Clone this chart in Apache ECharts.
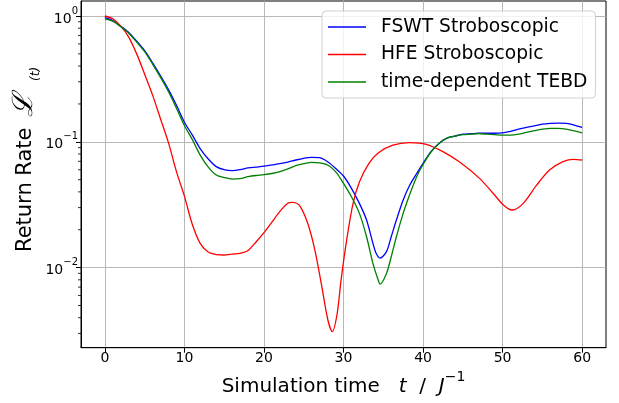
<!DOCTYPE html>
<html>
<head>
<meta charset="utf-8">
<script src="https://cdn.jsdelivr.net/npm/echarts@6/dist/echarts.min.js"></script>
<style>
html,body{margin:0;padding:0;background:#fff;}
#chart{width:619px;height:403px;}
</style>
</head>
<body>
<div id="chart"></div>
<script>
// ---- data ----
const seriesNames = ['FSWT Stroboscopic', 'HFE Stroboscopic', 'time-dependent TEBD'];

const fswt = [[0,0.97],[1,0.92],[2,0.83],[3,0.74],[4,0.63],[5,0.53],[6,0.425],[7,0.335],[8,0.26],[9,0.195],[10,0.143],[11,0.113],[12,0.088],[13,0.073],[14,0.0635],[15,0.06],[16,0.059],[17,0.06],[18,0.062],[19,0.063],[20,0.064],[21,0.0655],[22,0.067],[23,0.069],[24,0.0717],[25,0.074],[26,0.0753],[27,0.0748],[28,0.0695],[29,0.0616],[30,0.0535],[31,0.0427],[32,0.0324],[32.9,0.0239],[33.7,0.0156],[34.1,0.013],[34.6,0.0119],[35.4,0.0134],[36,0.0176],[36.65,0.0239],[37.5,0.0345],[38.3,0.045],[39.2,0.056],[40,0.0675],[41,0.0835],[42,0.097],[43,0.107],[44,0.111],[45,0.115],[46,0.116],[47,0.117],[48,0.117],[49,0.117],[50,0.118],[51,0.121],[52,0.126],[53,0.13],[54,0.134],[55,0.138],[56,0.140],[57,0.141],[58,0.140],[59,0.136],[60,0.130]];

const hfe = [[0,1.0],[1,0.95],[2,0.83],[3,0.68],[4,0.5],[5,0.345],[6,0.235],[7,0.152],[8,0.098],[9,0.058],[10,0.037],[11,0.022],[12,0.0155],[13,0.0133],[14,0.0127],[15,0.0126],[16,0.0128],[17,0.013],[18,0.0137],[19,0.016],[20,0.019],[21,0.023],[22,0.028],[23,0.0325],[23.6,0.033],[24.5,0.031],[25.5,0.0225],[26.4,0.0138],[27.2,0.0075],[28.05,0.0038],[28.6,0.0031],[29.2,0.0043],[29.7,0.008],[30.4,0.0166],[31.2,0.0324],[32,0.048],[33.2,0.0675],[34.4,0.082],[36.2,0.094],[38.3,0.0985],[40.4,0.0955],[42.5,0.0835],[44.6,0.069],[47.1,0.0512],[48.8,0.039],[50.1,0.0315],[51.2,0.0287],[52.6,0.0324],[54.3,0.0454],[55.9,0.0597],[57.6,0.0695],[58.9,0.0726],[60,0.0717]];

const tebd = [[0,0.95],[1,0.91],[2,0.82],[3,0.73],[4,0.62],[5,0.52],[6,0.415],[7,0.325],[8,0.25],[9,0.185],[10,0.135],[11,0.104],[12,0.078],[13,0.063],[14,0.0545],[15,0.052],[16,0.0506],[17,0.051],[18,0.0528],[19,0.054],[20,0.0548],[21,0.056],[22,0.058],[23,0.061],[24,0.0646],[25,0.067],[26,0.0687],[27,0.068],[28,0.0654],[29,0.058],[30,0.0468],[31,0.0366],[32,0.027],[32.9,0.0176],[33.7,0.0108],[34.35,0.008],[34.6,0.0074],[35.4,0.009],[36,0.0122],[36.65,0.0176],[37.5,0.027],[38.3,0.0378],[39.2,0.0528],[40,0.066],[41,0.083],[42,0.097],[43,0.107],[44,0.111],[45,0.114],[46,0.115],[47,0.116],[48,0.115],[49,0.114],[50,0.113],[51,0.113],[52,0.115],[53,0.119],[54,0.1226],[55,0.126],[56,0.128],[57,0.128],[58,0.126],[59,0.122],[60,0.118]];

const xTicks = [0, 10, 20, 30, 40, 50, 60];
const yTicks = [0.01, 0.1, 1];
const yMinorTicks = [0.003,0.004,0.005,0.006,0.007,0.008,0.009,0.02,0.03,0.04,0.05,0.06,0.07,0.08,0.09,0.2,0.3,0.4,0.5,0.6,0.7,0.8,0.9];
const X_MIN = -3, X_MAX = 63, Y_MIN = 0.00231, Y_MAX = 1.316;

const colors = ['#0000ff', '#ff0000', '#008000'];

const chart = echarts.init(document.getElementById('chart'), null, {renderer: 'canvas'});

function lineSeries(name, data, color, z) {
  return {
    name: name, type: 'line', data: data, showSymbol: false, symbol: 'none',
    smooth: 0.3,
    lineStyle: {color: color, width: 1.3}, itemStyle: {color: color},
    z: z, animation: false
  };
}

const option = {
  backgroundColor: '#ffffff',
  animation: false,
  textStyle: {fontFamily: 'DejaVu Sans', color: '#000'},
  grid: {left: 81, right: 13, top: 1, bottom: 55.3, show: true, borderColor: '#000', borderWidth: 1, backgroundColor: 'transparent'},
  legend: {
    data: seriesNames, orient: 'vertical', left: 322, top: 11,
    icon: 'rect', itemWidth: 38, itemHeight: 1.6, itemGap: 7.5,
    padding: [6, 8, 6, 6],
    borderColor: '#d0d0d0', borderWidth: 1, borderRadius: 4,
    backgroundColor: 'rgba(255,255,255,0.8)',
    textStyle: {fontFamily: 'DejaVu Sans', fontSize: 18.7, lineHeight: 20, color: '#000', padding: [0, 0, 0, 10]}
  },
  graphic: [
    {type: 'text', x: 25.5, y: 252, rotation: Math.PI / 2, silent: true,
     style: {text: 'Return Rate', fontFamily: 'DejaVu Sans', fontSize: 21, fill: '#000', align: 'left', verticalAlign: 'middle'}},
    {type: 'text', x: 25, y: 117, rotation: Math.PI / 2, silent: true,
     style: {text: 'ℒ', fontFamily: 'DejaVu Serif', fontStyle: 'italic', fontSize: 28, fill: '#000', align: 'left', verticalAlign: 'middle'}},
    {type: 'text', x: 36, y: 81, rotation: Math.PI / 2, silent: true,
     style: {text: '(t)', fontFamily: 'DejaVu Sans', fontStyle: 'italic', fontSize: 12, fill: '#000', align: 'left', verticalAlign: 'middle'}}
  ],
  xAxis: {
    type: 'value', min: X_MIN, max: X_MAX,
    name: '{n|Simulation time}{n|   }{i|t}{n|  /  }{i|J}{sup|−1}',
    nameLocation: 'middle', nameGap: 20,
    nameTextStyle: {
      rich: {
        n: {fontFamily: 'DejaVu Sans', fontSize: 20, color: '#000', lineHeight: 26, verticalAlign: 'bottom'},
        i: {fontFamily: 'DejaVu Sans', fontStyle: 'italic', fontSize: 20, color: '#000', lineHeight: 26, verticalAlign: 'bottom'},
        sup: {fontFamily: 'DejaVu Sans', fontSize: 14, color: '#000', lineHeight: 14, verticalAlign: 'top'}
      }
    },
    axisLine: {show: true, onZero: false, lineStyle: {color: '#000', width: 1}},
    axisTick: {show: true, inside: false, length: 5, customValues: xTicks, lineStyle: {color: '#000', width: 1}},
    axisLabel: {customValues: xTicks, fontFamily: 'DejaVu Sans', fontSize: 14, color: '#000', margin: 4},
    splitLine: {show: true, lineStyle: {color: '#b0b0b0', width: 0.9}}
  },
  yAxis: {
    type: 'log', logBase: 10, min: Y_MIN, max: Y_MAX,
    axisLine: {show: true, onZero: false, lineStyle: {color: '#000', width: 1}},
    axisTick: {show: true, inside: false, length: 5, customValues: yTicks, lineStyle: {color: '#000', width: 1}},
    axisLabel: {
      customValues: yTicks, margin: 3,
      formatter: function (v) {
        const e = Math.round(Math.log10(v));
        const es = e < 0 ? '−' + (-e) : String(e);
        return '{b|10}{e|' + es + '}';
      },
      rich: {
        b: {fontFamily: 'DejaVu Sans', fontSize: 14, color: '#000', lineHeight: 20, verticalAlign: 'bottom'},
        e: {fontFamily: 'DejaVu Sans', fontSize: 10, color: '#000', lineHeight: 12, verticalAlign: 'top'}
      }
    },
    splitLine: {show: true, lineStyle: {color: '#b0b0b0', width: 0.9}},
    minorTick: {show: false}
  },
  series: [
    lineSeries(seriesNames[0], fswt, colors[0], 2),
    lineSeries(seriesNames[1], hfe, colors[1], 3),
    lineSeries(seriesNames[2], tebd, colors[2], 4),
    {
      type: 'custom', name: 'minor', silent: true, clip: false, z: 10,
      data: yMinorTicks.map(function (v) { return [X_MIN, v]; }),
      renderItem: function (params, api) {
        const p = api.coord([api.value(0), api.value(1)]);
        return {type: 'line', shape: {x1: p[0] - 3, y1: p[1], x2: p[0], y2: p[1]}, style: {stroke: '#000', lineWidth: 0.8}};
      }
    }
  ]
};
chart.setOption(option);
</script>
</body>
</html>
